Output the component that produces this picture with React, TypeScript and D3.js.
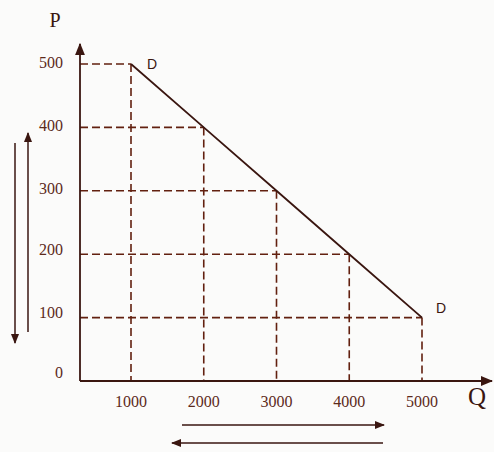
import React from 'react';
import * as d3 from 'd3';

// demand schedule
const quantities = [1000, 2000, 3000, 4000, 5000];
const prices = [500, 400, 300, 200, 100];
const priceTicks = [0, 100, 200, 300, 400, 500];
const qtyTicks = [1000, 2000, 3000, 4000, 5000];

const W = 494;
const H = 452;
const originX = 80;
const originY = 381;

const ink = '#3a1610';
const dashInk = '#62200f';
const labelInk = '#5c2a1a';

const App: React.FC = () => {
  const x = d3.scaleLinear().domain([1000, 5000]).range([131, 422]);
  const y = d3.scaleLinear().domain([0, 500]).range([originY, 64]);

  const pts = quantities.map((q, i) => ({ q, p: prices[i] }));
  const line = d3
    .line<{ q: number; p: number }>()
    .x((d) => x(d.q))
    .y((d) => y(d.p));

  const serif = '"Liberation Serif", "DejaVu Serif", serif';
  const sans = '"Liberation Sans", Arial, sans-serif';

  return (
    <svg
      width={W}
      height={H}
      style={{ position: 'absolute', left: 0, top: 0, background: '#fbfbfa' }}
    >
      <defs>
        <marker id="head" viewBox="0 0 10 10" refX="9" refY="5" markerWidth="7" markerHeight="7" orient="auto">
          <path d="M0,1 L10,5 L0,9 z" fill={ink} />
        </marker>
      </defs>

      {/* dashed guides */}
      <g stroke={dashInk} strokeWidth={1.6} strokeDasharray="8,4" fill="none">
        {pts.map((d) => (
          <g key={d.q}>
            <line x1={originX} y1={y(d.p)} x2={x(d.q)} y2={y(d.p)} />
            <line x1={x(d.q)} y1={y(d.p)} x2={x(d.q)} y2={originY} />
          </g>
        ))}
      </g>

      {/* demand curve */}
      <path d={line(pts) ?? ''} fill="none" stroke={ink} strokeWidth={1.8} />

      {/* axes */}
      <line x1={originX} y1={originY} x2={originX} y2={44} stroke={ink} strokeWidth={1.8} markerEnd="url(#head)" />
      <line x1={originX} y1={originY} x2={492} y2={originY} stroke={ink} strokeWidth={1.8} markerEnd="url(#head)" />

      {/* tick labels */}
      <g fontFamily={serif} fontSize={16} fill={labelInk}>
        {priceTicks.map((t) => (
          <text key={t} x={63} y={y(t) + (t === 0 ? -7 : t <= 200 ? -3 : 0)} textAnchor="end" dominantBaseline="middle">
            {t}
          </text>
        ))}
        {qtyTicks.map((t) => (
          <text key={t} x={x(t)} y={403} textAnchor="middle" dominantBaseline="middle">
            {t}
          </text>
        ))}
      </g>

      {/* axis titles and curve labels */}
      <text x={55} y={22} fontFamily={serif} fontSize={20} fill={ink} textAnchor="middle" dominantBaseline="middle">
        P
      </text>
      <text x={477} y={399} fontFamily={serif} fontSize={25} fill={ink} textAnchor="middle" dominantBaseline="middle">
        Q
      </text>
      <text x={x(1000) + 21} y={y(500) + 1} fontFamily={sans} fontSize={14} fill={ink} textAnchor="middle" dominantBaseline="middle">
        D
      </text>
      <text x={x(5000) + 19} y={y(100) - 8} fontFamily={sans} fontSize={14} fill={ink} textAnchor="middle" dominantBaseline="middle">
        D
      </text>

      {/* direction arrows */}
      <g stroke={ink} strokeWidth={1.5} markerEnd="url(#head)">
        <line x1={15} y1={143} x2={15} y2={343} />
        <line x1={28} y1={332} x2={28} y2={133} />
        <line x1={182} y1={425} x2={384} y2={425} />
        <line x1={383} y1={443} x2={172} y2={443} />
      </g>
    </svg>
  );
};

export default App;
